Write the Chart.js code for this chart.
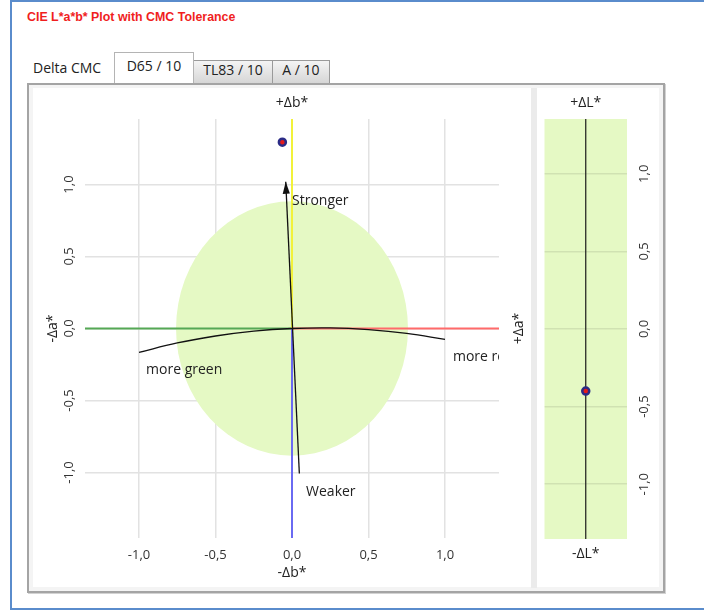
<!DOCTYPE html>
<html>
<head>
<meta charset="utf-8">
<title>CIE L*a*b* Plot with CMC Tolerance</title>
<script src="https://cdn.jsdelivr.net/npm/chart.js@4.4.1/dist/chart.umd.min.js"></script>
<style>
  html, body { margin: 0; padding: 0; background: #fff; }
  body { width: 704px; height: 612px; position: relative; overflow: hidden; font-family: "Open Sans", sans-serif; }
  .frame { position: absolute; left: 10px; top: 0; width: 720px; height: 606px;
           border-left: 2px solid #5a8ccc; border-top: 2px solid #5a8ccc; border-bottom: 2px solid #5a8ccc; }
  .title { position: absolute; left: 27px; top: 10px; font: bold 12.4px "Liberation Sans", Arial, sans-serif; color: #f01e1e; white-space: nowrap; }
  .lbl { position: absolute; left: 33px; top: 58px; font-size: 14px; color: #222; white-space: nowrap; }
  .tab { position: absolute; box-sizing: border-box; border: 1px solid #9a9a9a; border-bottom: none;
         font-size: 14px; color: #222; text-align: center; white-space: nowrap; }
  .tab.active { left: 114px; top: 52px; width: 80px; height: 31px; background: #fff; line-height: 26px; z-index: 2; border-color: #b4b4b4; }
  .tab.t2 { left: 193px; top: 60px; width: 80px; height: 23px; background: linear-gradient(#f4f4f4, #d6d6d6); line-height: 17px; }
  .tab.t3 { left: 272px; top: 60px; width: 58px; height: 23px; background: linear-gradient(#f4f4f4, #d6d6d6); line-height: 17px; }
  .panel { position: absolute; left: 27px; top: 83px; width: 638px; height: 510px; box-sizing: border-box;
           border: 2px solid #a4a4a4; background: #f4f4f4; box-shadow: 1px 1px 0 #d2d2d2; }
  .inner { position: absolute; left: 33px; top: 88px; width: 626px; height: 499px; background: #fff; }
  .sep { position: absolute; left: 531px; top: 88px; width: 6px; height: 500px; background: #ebebeb; }
  canvas { position: absolute; }
</style>
</head>
<body>
<div class="frame"></div>
<div class="title">CIE L*a*b* Plot with CMC Tolerance</div>
<div class="lbl">Delta CMC</div>
<div class="panel"></div>
<div class="tab active">D65 / 10</div>
<div class="tab t2">TL83 / 10</div>
<div class="tab t3">A / 10</div>
<div class="inner"></div>
<div class="sep"></div>
<canvas id="abPlot" width="500" height="500" style="left:30px;top:86px;"></canvas>
<canvas id="lPlot" width="120" height="500" style="left:538px;top:86px;"></canvas>
<script>
// Axis ranges
const abRangeX = [-1.353, 1.353];
const abRangeY = [-1.455, 1.455];
const lRange = [-1.353, 1.353];

// Tick positions and their labels (decimal comma)
const tickValues = [-1, -0.5, 0, 0.5, 1];
const tickLabels = ['-1,0', '-0,5', '0,0', '0,5', '1,0'];

// Sample position
const sampleAB = [{ x: -0.063, y: 1.294 }];
const sampleL = [{ x: 0, y: -0.40 }];

// CMC tolerance ellipse semi-axes
const tolSemiA = 0.758;
const tolSemiB = 0.884;

// Chroma direction (weaker -> stronger)
const chromaX = [0.048, -0.041];
const chromaY = [-1.007, 1.019];

// Hue direction arc
const hueX = [-1.0, -0.75, -0.5, -0.25, 0, 0.25, 0.5, 0.75, 1.0];
const hueY = [-0.166, -0.100, -0.052, -0.018, 0, 0.004, -0.008, -0.034, -0.076];

// Direction captions, anchored at their baseline start
const directionText = ['Stronger', 'Weaker', 'more green', 'more red'];
const directionX = [0.0, 0.092, -0.954, 1.052];
const directionY = [0.861, -1.165, -0.319, -0.227];

const tolFill = 'rgb(229,249,196)';
const gridColor = '#e2e2e2';
const uiFont = '"Open Sans", sans-serif';

const pts = (xs, ys) => xs.map((v, i) => ({ x: v, y: ys[i] }));
const tickText = v => { const i = tickValues.indexOf(v); return i < 0 ? '' : tickLabels[i]; };
const setTicks = axis => { axis.ticks = tickValues.map(v => ({ value: v })); };

Chart.defaults.font.family = uiFont;
Chart.defaults.color = '#333';

const lineSet = (data, color, width, extra) => Object.assign({
  data, showLine: true, borderColor: color, borderWidth: width, pointRadius: 0, fill: false
}, extra || {});

// Tolerance ellipse, drawn above the grid and below the lines
const toleranceEllipse = {
  id: 'toleranceEllipse',
  beforeDatasetsDraw(chart) {
    const { ctx, chartArea: a, scales: { x, y } } = chart;
    const cx = x.getPixelForValue(0), cy = y.getPixelForValue(0);
    const rx = Math.abs(x.getPixelForValue(tolSemiA) - cx);
    const ry = Math.abs(y.getPixelForValue(tolSemiB) - cy);
    ctx.save();
    ctx.beginPath(); ctx.rect(a.left, a.top, a.right - a.left, a.bottom - a.top); ctx.clip();
    ctx.fillStyle = tolFill;
    ctx.beginPath(); ctx.ellipse(cx, cy, rx, ry, 0, 0, Math.PI * 2); ctx.fill();
    ctx.restore();
  }
};

// Arrowhead on the chroma line and the direction captions
const directionMarks = {
  id: 'directionMarks',
  afterDatasetsDraw(chart) {
    const { ctx, chartArea: a, scales: { x, y } } = chart;
    const meta = chart.getDatasetMeta(1);
    const p0 = meta.data[0], p1 = meta.data[1];
    const ang = Math.atan2(p1.y - p0.y, p1.x - p0.x);
    const len = 12, half = 3.6;
    ctx.save();
    ctx.fillStyle = '#111';
    ctx.translate(p1.x, p1.y); ctx.rotate(ang);
    ctx.beginPath(); ctx.moveTo(0, 0); ctx.lineTo(-len, -half); ctx.lineTo(-len, half); ctx.closePath(); ctx.fill();
    ctx.restore();

    ctx.save();
    ctx.beginPath(); ctx.rect(a.left, a.top, a.right - a.left, a.bottom - a.top); ctx.clip();
    ctx.font = '14px ' + uiFont;
    ctx.fillStyle = '#222';
    ctx.textAlign = 'left'; ctx.textBaseline = 'alphabetic';
    directionText.forEach((t, i) => ctx.fillText(t, x.getPixelForValue(directionX[i]), y.getPixelForValue(directionY[i])));
    ctx.restore();
  },
  afterDraw(chart) {
    const { ctx, chartArea: a } = chart;
    ctx.save();
    ctx.font = '14px ' + uiFont;
    ctx.fillStyle = '#222';
    ctx.textAlign = 'center'; ctx.textBaseline = 'middle';
    ctx.translate(a.right + 20, (a.top + a.bottom) / 2);
    ctx.rotate(-Math.PI / 2);
    ctx.fillText('+\u0394a*', 0, 0);
    ctx.restore();
  }
};

const titleFont = { size: 14, family: uiFont };
const tickFont = { size: 13, family: uiFont };

new Chart(document.getElementById('abPlot'), {
  type: 'scatter',
  data: {
    datasets: [
      { data: sampleAB, pointRadius: 3.5, borderWidth: 2.5, backgroundColor: '#e41b1b', borderColor: '#2b2b86' },
      lineSet(pts(chromaX, chromaY), '#111', 1.3),
      lineSet(pts(hueX, hueY), '#111', 1.3, { tension: 0.4 }),
      lineSet([{ x: 0, y: 0 }, { x: 0, y: abRangeY[1] }], '#f2f23a', 2),
      lineSet([{ x: 0, y: 0 }, { x: 0, y: abRangeY[0] }], '#6a6af2', 2),
      lineSet([{ x: abRangeX[0], y: 0 }, { x: 0, y: 0 }], '#55a855', 2),
      lineSet([{ x: 0, y: 0 }, { x: abRangeX[1], y: 0 }], '#ff6a6a', 2)
    ]
  },
  options: {
    responsive: false, devicePixelRatio: 1, animation: false,
    layout: { padding: { right: 31 } },
    plugins: { legend: { display: false }, tooltip: { enabled: false } },
    scales: {
      x: {
        type: 'linear', position: 'bottom', min: abRangeX[0], max: abRangeX[1],
        afterBuildTicks: setTicks,
        afterFit: s => { s.height = 48; },
        grid: { color: gridColor, lineWidth: 1.5, drawTicks: false },
        border: { display: false },
        ticks: { callback: tickText, font: tickFont, color: '#333', padding: 9 },
        title: { display: true, text: '-\u0394b*', font: titleFont, color: '#222', padding: { top: 0, bottom: 5 } }
      },
      x2: {
        type: 'linear', position: 'top', min: abRangeX[0], max: abRangeX[1],
        afterFit: s => { s.height = 33; },
        grid: { display: false }, border: { display: false },
        ticks: { display: false },
        title: { display: true, text: '+\u0394b*', font: titleFont, color: '#222', padding: { top: 9, bottom: 0 } }
      },
      y: {
        type: 'linear', position: 'left', min: abRangeY[0], max: abRangeY[1],
        afterBuildTicks: setTicks,
        afterFit: s => { s.width = 55; },
        grid: { color: gridColor, lineWidth: 1.5, drawTicks: false },
        border: { display: false },
        ticks: { callback: tickText, font: tickFont, color: '#333', minRotation: 90, maxRotation: 90, crossAlign: 'center', padding: 4 },
        title: { display: true, text: '-\u0394a*', font: titleFont, color: '#222', padding: { top: 15, bottom: 0 } }
      }
    }
  },
  plugins: [toleranceEllipse, directionMarks]
});

// Lightness strip background
const lightnessBand = {
  id: 'lightnessBand',
  beforeDraw(chart) {
    const { ctx, chartArea: a } = chart;
    ctx.save();
    ctx.fillStyle = tolFill;
    ctx.fillRect(a.left, a.top, a.right - a.left, a.bottom - a.top);
    ctx.restore();
  }
};

new Chart(document.getElementById('lPlot'), {
  type: 'scatter',
  data: {
    datasets: [
      { data: sampleL, pointRadius: 3.5, borderWidth: 2.5, backgroundColor: '#e41b1b', borderColor: '#2b2b86' },
      lineSet([{ x: 0, y: lRange[0] }, { x: 0, y: lRange[1] }], '#1a1a1a', 1.2)
    ]
  },
  options: {
    responsive: false, devicePixelRatio: 1, animation: false,
    layout: { padding: { left: 6 } },
    plugins: { legend: { display: false }, tooltip: { enabled: false } },
    scales: {
      x: {
        type: 'linear', position: 'bottom', min: -1, max: 1,
        afterFit: s => { s.height = 47; },
        grid: { display: false }, border: { display: false },
        ticks: { display: false },
        title: { display: true, text: '-\u0394L*', font: titleFont, color: '#222', padding: { top: 0, bottom: 24 } }
      },
      x2: {
        type: 'linear', position: 'top', min: -1, max: 1,
        afterFit: s => { s.height = 33; },
        grid: { display: false }, border: { display: false },
        ticks: { display: false },
        title: { display: true, text: '+\u0394L*', font: titleFont, color: '#222', padding: { top: 9, bottom: 0 } }
      },
      y: {
        type: 'linear', position: 'right', min: lRange[0], max: lRange[1],
        afterBuildTicks: setTicks,
        afterFit: s => { s.width = 31; },
        grid: { color: 'rgba(0,0,0,0.09)', lineWidth: 1.5, drawTicks: false },
        border: { display: false },
        ticks: { callback: tickText, font: tickFont, color: '#333', minRotation: 90, maxRotation: 90, crossAlign: 'center', padding: 6 }
      }
    }
  },
  plugins: [lightnessBand]
});
</script>
</body>
</html>
